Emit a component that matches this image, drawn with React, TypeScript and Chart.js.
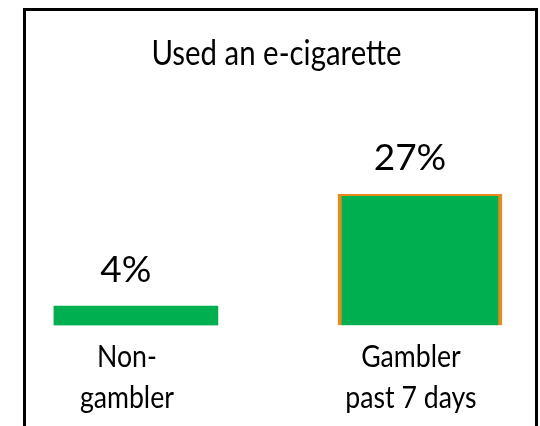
import React, { useEffect, useRef } from 'react';
import { Chart, registerables } from 'chart.js';

Chart.register(...registerables);

const chartTitle = 'Used an e-cigarette';
const categoryLines = [['Non-', 'gambler'], ['Gambler', 'past 7 days']];
const positions = [0, 1];
const values = [4, 27];
const valueLabels = ['4%', '27%'];

const FONT = 'Lato, "Open Sans", sans-serif';

function drawText(ctx: CanvasRenderingContext2D, text: string, cx: number, y: number, size: number, sx: number) {
  ctx.save();
  ctx.font = `${size}px ${FONT}`;
  ctx.fillStyle = '#000000';
  ctx.textAlign = 'center';
  ctx.textBaseline = 'alphabetic';
  ctx.translate(cx, y);
  ctx.scale(sx, 1);
  ctx.fillText(text, 0, 0);
  ctx.restore();
}

const textPlugin = {
  id: 'textPlugin',
  afterDatasetsDraw(chart: any) {
    const ctx = chart.ctx as CanvasRenderingContext2D;
    const area = chart.chartArea;
    drawText(ctx, chartTitle, (area.left + area.right) / 2 - 4, 65, 35, 0.84);
    const meta = chart.getDatasetMeta(0);
    meta.data.forEach((bar: any, i: number) => {
      drawText(ctx, valueLabels[i], bar.x - 10, bar.y - 24, 37, 1);
      categoryLines[i].forEach((line, j) => {
        drawText(ctx, line, bar.x - 9, area.bottom + 41.5 + j * 41, 31, 0.86);
      });
    });
  },
};

export default function App() {
  const canvasRef = useRef<HTMLCanvasElement | null>(null);

  useEffect(() => {
    if (!canvasRef.current) return;
    const chart = new Chart(canvasRef.current, {
      type: 'bar',
      data: {
        datasets: [
          {
            data: positions.map((p, i) => ({ x: p, y: values[i] })),
            backgroundColor: '#00B050',
            borderColor: ['#00B050', '#E68A1E'],
            borderWidth: (c: any) => (c.dataIndex === 1 ? { left: 4, right: 4, top: 2, bottom: 0 } : 0),
            borderSkipped: 'start',
            barThickness: 164,
          } as any,
        ],
      },
      options: {
        animation: false,
        responsive: true,
        maintainAspectRatio: false,
        layout: { padding: { left: 24, right: 3, top: 10, bottom: 100.5 } },
        plugins: {
          legend: { display: false },
          tooltip: { enabled: false },
          title: { display: false },
        },
        scales: {
          x: { type: 'linear', offset: false, min: -0.394, max: 1.412, display: false, grid: { display: false } },
          y: { min: 0, max: 65, display: false, grid: { display: false } },
        },
      },
      plugins: [textPlugin],
    });
    return () => chart.destroy();
  }, []);

  return (
    <div style={{ position: 'fixed', left: 0, top: 0, width: 540, height: 426, background: '#fff' }}>
      <canvas ref={canvasRef} />
      <div
        style={{
          position: 'absolute',
          left: 23,
          top: 8,
          width: 515,
          height: 430,
          border: '3px solid #000',
          borderBottom: 'none',
          boxSizing: 'border-box',
          pointerEvents: 'none',
        }}
      />
    </div>
  );
}
